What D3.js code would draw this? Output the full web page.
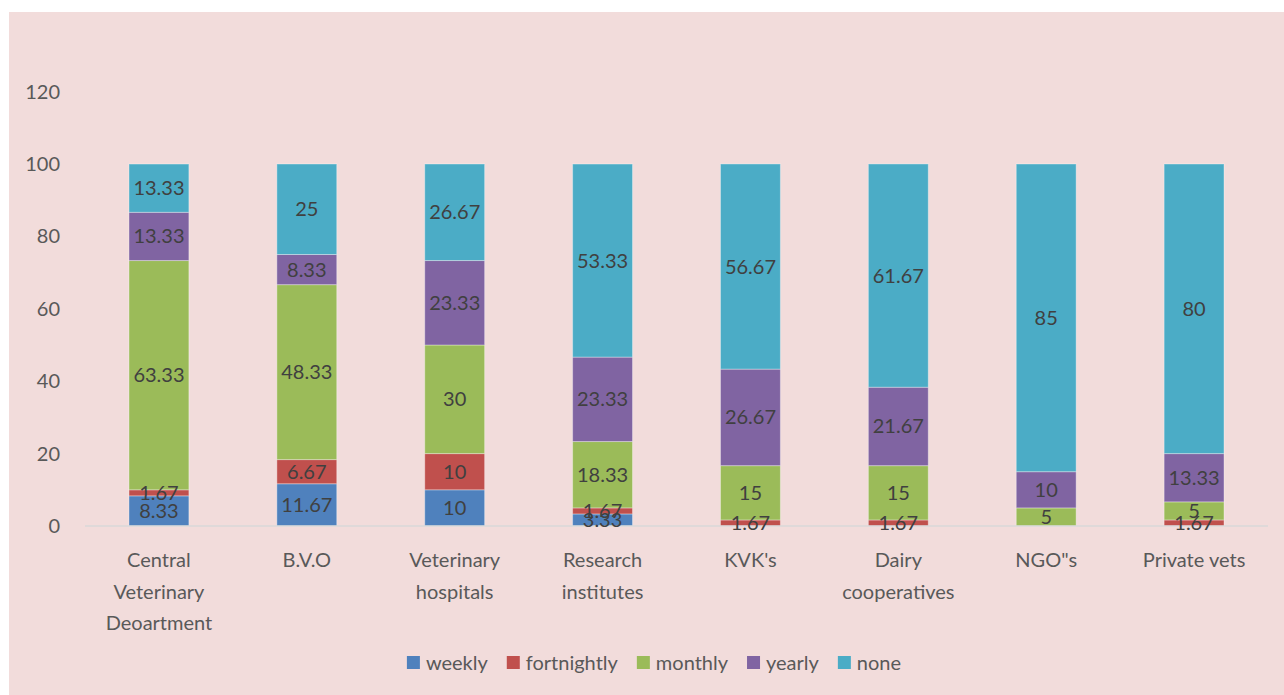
<!DOCTYPE html>
<html>
<head>
<meta charset="utf-8">
<script src="https://cdn.jsdelivr.net/npm/d3@7"></script>
<style>
  body { margin: 0; background: #fff; }
  text { font-family: Lato, "Open Sans", sans-serif; }
</style>
</head>
<body>
<div id="chart"></div>
<script>
var categories = ["Central Veterinary Deoartment", "B.V.O", "Veterinary hospitals", "Research institutes",
                  "KVK's", "Dairy cooperatives", "NGO\"s", "Private vets"];
var seriesNames = ["weekly", "fortnightly", "monthly", "yearly", "none"];
var weekly      = [8.33, 11.67, 10, 3.33, 0, 0, 0, 0];
var fortnightly = [1.67, 6.67, 10, 1.67, 1.67, 1.67, 0, 1.67];
var monthly     = [63.33, 48.33, 30, 18.33, 15, 15, 5, 5];
var yearly      = [13.33, 8.33, 23.33, 23.33, 26.67, 21.67, 10, 13.33];
var none        = [13.33, 25, 26.67, 53.33, 56.67, 61.67, 85, 80];
var yTicks = [0, 20, 40, 60, 80, 100, 120];

var colors = ["#4f81bd", "#c0504d", "#9bbb59", "#8064a2", "#4bacc6"];
var W = 1284, H = 695;

var rows = categories.map(function (c, i) {
    return { cat: c, weekly: weekly[i], fortnightly: fortnightly[i], monthly: monthly[i], yearly: yearly[i], none: none[i] };
});

var svg = d3.select("#chart").append("svg").attr("width", W).attr("height", H);

svg.append("rect").attr("x", 9).attr("y", 12).attr("width", W - 9).attr("height", H - 12).attr("fill", "#f2dcdb");

var x = d3.scaleBand().domain(categories).range([85, 1268]).paddingInner(0.595).paddingOuter(0.2975);
var y = d3.scaleLinear().domain([0, 120]).range([526, 91.6]);

// y axis labels
svg.selectAll(".ytick")
    .data(yTicks)
    .enter()
    .append("text")
    .attr("class", "ytick")
    .attr("x", 60)
    .attr("y", function (d) { return y(d); })
    .attr("dy", "0.35em")
    .attr("text-anchor", "end")
    .attr("font-size", 20)
    .attr("fill", "#595959")
    .text(function (d) { return d; });

var stack = d3.stack().keys(seriesNames)(rows);

var layer = svg.selectAll(".layer")
    .data(stack)
    .enter()
    .append("g")
    .attr("fill", function (d, i) { return colors[i]; });

layer.selectAll("rect")
    .data(function (d) { return d; })
    .enter()
    .append("rect")
    .attr("x", function (d) { return x(d.data.cat); })
    .attr("width", x.bandwidth())
    .attr("y", function (d) { return y(d[1]); })
    .attr("height", function (d) { return y(d[0]) - y(d[1]); })
    .attr("stroke", "rgba(255,255,255,0.35)")
    .attr("stroke-width", 1);

// axis line
svg.append("line")
    .attr("x1", 85).attr("x2", 1268)
    .attr("y1", y(0)).attr("y2", y(0))
    .attr("stroke", "#d9d9d9")
    .attr("stroke-width", 1.5);

// data labels, drawn above all bars
var labels = [];
stack.forEach(function (s) {
    s.forEach(function (p) { if (p[1] - p[0] > 0) labels.push(p); });
});

svg.selectAll(".lbl")
    .data(labels)
    .enter()
    .append("text")
    .attr("class", "lbl")
    .attr("x", function (d) { return x(d.data.cat) + x.bandwidth() / 2; })
    .attr("y", function (d) { return y((d[0] + d[1]) / 2); })
    .attr("dy", "0.35em")
    .attr("text-anchor", "middle")
    .attr("font-size", 20)
    .attr("fill", "#404040")
    .text(function (d) { return +(d[1] - d[0]).toFixed(2); });

// category labels, wrapped
function wrap(str, width) {
    var words = str.split(" "), lines = [], cur = "";
    var tmp = svg.append("text").attr("font-size", 20);
    words.forEach(function (w) {
        var t = cur ? cur + " " + w : w;
        tmp.text(t);
        if (tmp.node().getComputedTextLength() > width && cur) {
            lines.push(cur);
            cur = w;
        } else {
            cur = t;
        }
    });
    lines.push(cur);
    tmp.remove();
    return lines;
}

categories.forEach(function (c) {
    var t = svg.append("text")
        .attr("x", x(c) + x.bandwidth() / 2)
        .attr("y", 567)
        .attr("text-anchor", "middle")
        .attr("font-size", 20)
        .attr("fill", "#595959");
    wrap(c, 140).forEach(function (line, i) {
        t.append("tspan")
            .attr("x", x(c) + x.bandwidth() / 2)
            .attr("dy", i ? 31.5 : 0)
            .text(line);
    });
});

// legend
var legend = svg.append("g");
var lx = 0;
seriesNames.forEach(function (s, i) {
    var g = legend.append("g").attr("transform", "translate(" + lx + ",0)");
    g.append("rect").attr("x", 0).attr("y", -7).attr("width", 13).attr("height", 13).attr("fill", colors[i]);
    var tx = g.append("text").attr("x", 19).attr("y", 0).attr("dy", "0.35em")
        .attr("font-size", 20).attr("fill", "#595959").text(s);
    lx += 19 + tx.node().getComputedTextLength() + 19;
});
legend.attr("transform", "translate(" + (654 - (lx - 19) / 2) + ",663)");
</script>
</body>
</html>
